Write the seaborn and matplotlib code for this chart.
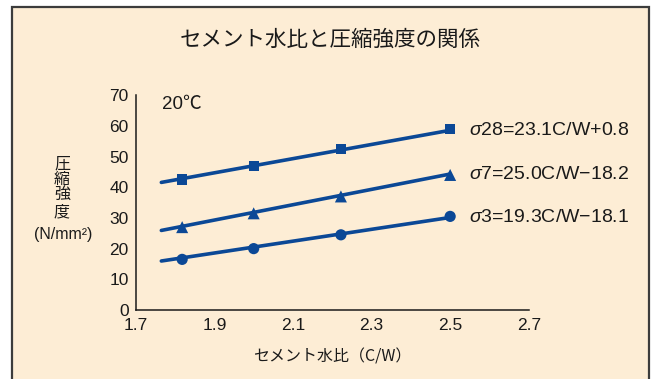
import numpy as np
import pandas as pd
import matplotlib
matplotlib.use("Agg")
import matplotlib.pyplot as plt
from matplotlib.patches import Rectangle
import seaborn as sns

# cement-water ratio (C/W) for W/C = 55, 50, 45, 40 %
cw_ratio = [1.818, 2.000, 2.222, 2.500]
# measured compressive strength (N/mm2) at 28, 7 and 3 days
strength_28 = [42.5, 47.0, 52.5, 59.0]
strength_7 = [27.0, 31.5, 37.0, 44.0]
strength_3 = [16.5, 20.0, 24.5, 30.5]
# regression lines  sigma = a * C/W + b
series_names = ["σ28", "σ7", "σ3"]
slopes = [23.1, 25.0, 19.3]
intercepts = [0.8, -18.2, -18.1]
fit_range = [1.765, 2.5]
markers = ["s", "^", "o"]
marker_sizes = [55, 75, 65]

x_ticks = [1.7, 1.9, 2.1, 2.3, 2.5, 2.7]
y_ticks = [0, 10, 20, 30, 40, 50, 60, 70]

title = "セメント水比と圧縮強度の関係"
x_label = "セメント水比（C/W）"
y_label_jp = "圧\n縮\n強\n度"
y_label_unit = "(N/mm²)"
temp_note = "20℃"

BLUE = "#0B4896"
PEACH = "#FDEDD5"
INK = "#1a1a1a"
LATIN = ["Liberation Sans", "Noto Sans CJK JP"]
CJK = ["Noto Sans CJK JP", "DejaVu Sans"]

sns.set_theme(style="white")
plt.rcParams["font.family"] = LATIN
plt.rcParams["mathtext.fontset"] = "custom"
plt.rcParams["mathtext.it"] = "Liberation Sans:italic"
plt.rcParams["mathtext.rm"] = "Liberation Sans"

points = pd.DataFrame({
    "cw": cw_ratio * 3,
    "strength": strength_28 + strength_7 + strength_3,
    "series": np.repeat(series_names, len(cw_ratio)),
})
fits = pd.DataFrame({
    "cw": fit_range * 3,
    "strength": [a * x + b for a, b in zip(slopes, intercepts) for x in fit_range],
    "series": np.repeat(series_names, len(fit_range)),
})

fig = plt.figure(figsize=(6.56, 3.79), dpi=100)
fig.patch.set_facecolor("white")
fig.patches.append(Rectangle((12 / 656, -0.05), (649 - 12) / 656, 1.05 - 7 / 379,
                             transform=fig.transFigure, facecolor=PEACH,
                             edgecolor="#3c3c3c", linewidth=1.6, zorder=-1))

ax = fig.add_axes([0.207, 0.182, 0.599, 0.567])
ax.set_facecolor("none")
ax.set_zorder(2)

for name, mk, ms in zip(series_names, markers, marker_sizes):
    sns.lineplot(data=fits[fits.series == name], x="cw", y="strength",
                 color=BLUE, linewidth=2.6, ax=ax, legend=False)
    sns.scatterplot(data=points[points.series == name], x="cw", y="strength",
                    color=BLUE, marker=mk, s=ms, edgecolor="none", ax=ax,
                    legend=False, zorder=3)

for name, a, b in zip(series_names, slopes, intercepts):
    sign = "+" if b >= 0 else "−"
    text = f"$\\sigma${name[1:]}={a:.1f}C/W{sign}{abs(b):.1f}"
    y_end = a * fit_range[1] + b
    ax.annotate(text, xy=(fit_range[1], y_end), xytext=(13.5, 0),
                textcoords="offset points", va="center", ha="left",
                fontsize=14, color=INK, annotation_clip=False)

ax.set_xlim(1.7, 2.7)
ax.set_ylim(0, 70)
ax.set_xticks(x_ticks)
ax.set_yticks(y_ticks)
ax.set_xticklabels([f"{t:.1f}" for t in x_ticks])
ax.set_yticklabels([str(t) for t in y_ticks])
ax.tick_params(direction="in", length=4, width=1, colors=INK, labelsize=12.5)
ax.tick_params(axis="x", pad=6)
ax.tick_params(axis="y", pad=5)
ax.set_xlabel("")
ax.set_ylabel("")
for side in ["top", "right"]:
    ax.spines[side].set_visible(False)
for side in ["left", "bottom"]:
    ax.spines[side].set_color(INK)
    ax.spines[side].set_linewidth(1.1)

ax.text(0.066, 0.955, temp_note, transform=ax.transAxes, fontsize=13.5,
        ha="left", va="center", color=INK)

fig.text(0.503, 0.894, title, family=CJK, fontsize=15.5, ha="center",
         va="center", color=INK)
fig.text(0.506, 0.058, x_label, family=CJK, fontsize=11.5, ha="center",
         va="center", color=INK)
fig.text(0.0945, 0.505, y_label_jp, family=CJK, fontsize=11.5, ha="center",
         va="center", linespacing=0.92, color=INK)
fig.text(0.096, 0.38, y_label_unit, fontsize=11.5, ha="center",
         va="center", color=INK)

fig.savefig("out.png", dpi=100, facecolor="white")
